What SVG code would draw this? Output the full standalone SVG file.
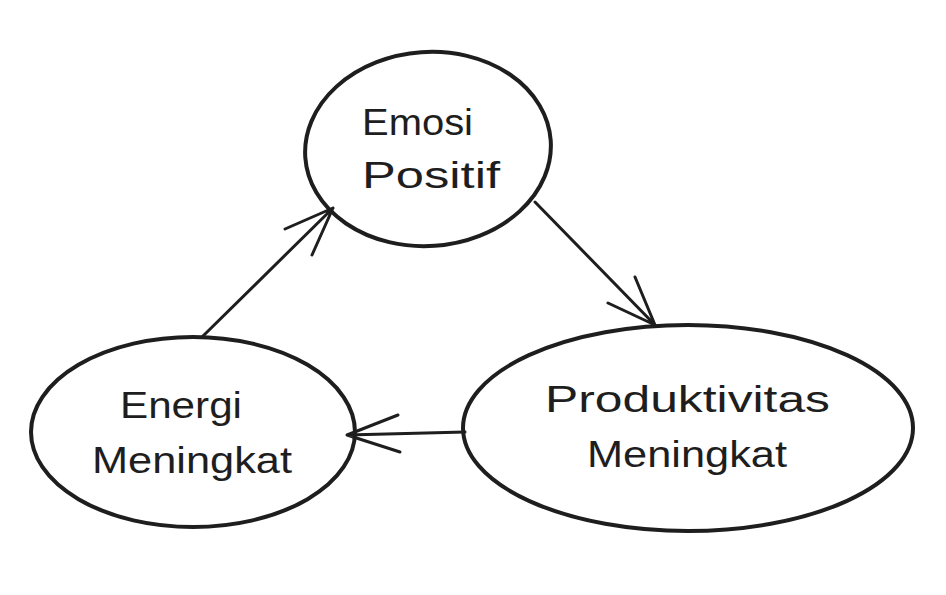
<svg xmlns="http://www.w3.org/2000/svg" width="946" height="595" viewBox="0 0 946 595">
<style>
.node{fill:#ffffff;stroke:#1e1e1e;stroke-width:4;}
.lbl{font-family:"Liberation Sans","DejaVu Sans",sans-serif;font-size:36px;fill:#1e1e1e;}
.edge{fill:none;stroke:#1e1e1e;stroke-width:3;stroke-linecap:round;stroke-linejoin:round;}
</style>
<rect width="946" height="595" fill="#ffffff"/>
<g id="emosi-positif">
<ellipse class="node" cx="428" cy="149" rx="123" ry="97" transform="rotate(-4 428 149)"/>
<text class="lbl" x="362" y="135" textLength="111" lengthAdjust="spacingAndGlyphs">Emosi</text>
<text class="lbl" x="362" y="188" textLength="138" lengthAdjust="spacingAndGlyphs">Positif</text>
</g>
<g id="energi-meningkat">
<ellipse class="node" cx="193" cy="432" rx="162" ry="95"/>
<text class="lbl" x="120" y="418" textLength="122" lengthAdjust="spacingAndGlyphs">Energi</text>
<text class="lbl" x="92" y="473" textLength="200" lengthAdjust="spacingAndGlyphs">Meningkat</text>
</g>
<g id="produktivitas-meningkat">
<ellipse class="node" cx="688" cy="428" rx="225" ry="103"/>
<text class="lbl" x="545" y="412" textLength="285" lengthAdjust="spacingAndGlyphs">Produktivitas</text>
<text class="lbl" x="587" y="467" textLength="200" lengthAdjust="spacingAndGlyphs">Meningkat</text>
</g>
<g id="connectors">
<path class="edge" d="M202 337 L333 208 M285 229 L333 208 L312 255"/>
<path class="edge" d="M535 202 L655 325 M608 303 L655 325 L635 277"/>
<path class="edge" d="M465 432 L347 435 M398 415 L347 435 L400 452"/>
</g>
</svg>
